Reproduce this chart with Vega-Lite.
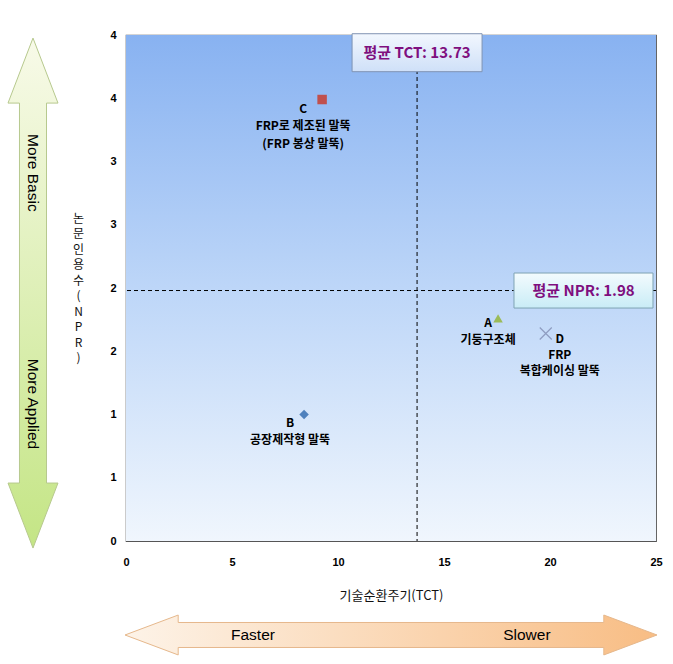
{
  "$schema": "https://vega.github.io/schema/vega-lite/v6.json",
  "width": 530,
  "height": 506,
  "autosize": {"type": "none"},
  "padding": {"left": 126, "top": 35, "right": 17, "bottom": 123},
  "background": "white",
  "config": {
    "view": {"stroke": "#555555", "strokeWidth": 1.2},
    "font": "Noto Sans CJK KR"
  },
  "data": {"values": [{"note": "annotation"}]},
  "datasets": {
    "tech": [
      {"code": "A", "label": "A\n기둥구조체", "tct": 17.55, "npr": 1.76},
      {"code": "B", "label": "B\n공장제작형 말뚝", "tct": 8.4, "npr": 1.0},
      {"code": "C", "label": "C\nFRP로 제조된 말뚝\n(FRP 봉상 말뚝)", "tct": 9.25, "npr": 3.49},
      {"code": "D", "label": "D\nFRP\n복합케이싱 말뚝", "tct": 19.8, "npr": 1.64}
    ]
  },
  "layer": [
    {
      "mark": {
        "type": "rect",
        "fill": {
          "gradient": "linear", "x1": 0, "y1": 0, "x2": 0, "y2": 1,
          "stops": [
            {"offset": 0, "color": "#88b2f1"},
            {"offset": 0.5, "color": "#bdd6f8"},
            {"offset": 1, "color": "#f0f6fd"}
          ]
        }
      },
      "encoding": {}
    },
    {
      "data": {"name": "tech"},
      "mark": {"type": "point", "filled": true, "opacity": 1, "size": 90},
      "transform": [{"filter": "datum.code != 'D'"}],
      "encoding": {
        "x": {
          "field": "tct", "type": "quantitative",
          "scale": {"domain": [0, 25], "nice": false, "zero": false},
          "axis": {
            "title": "기술순환주기(TCT)",
            "values": [0, 5, 10, 15, 20, 25],
            "grid": false, "domain": false, "ticks": false, "tickSize": 0,
            "labelFont": "Liberation Sans", "labelFontWeight": "bold", "labelFontSize": 11,
            "labelColor": "#000000", "labelPadding": 15, "labelFlush": false, "labelOverlap": false,
            "titleFont": "Noto Sans CJK KR", "titleFontWeight": "normal", "titleFontSize": 13,
            "titleColor": "#111111", "titlePadding": 22
          }
        },
        "y": {
          "field": "npr", "type": "quantitative",
          "scale": {"domain": [0, 4], "nice": false, "zero": false},
          "axis": {
            "title": ["논", "문", "인", "용", "수", "(", "N", "P", "R", ")"],
            "values": [0, 0.5, 1, 1.5, 2, 2.5, 3, 3.5, 4],
            "format": ".0f",
            "grid": false, "domain": false, "ticks": false, "tickSize": 0,
            "labelFont": "Liberation Sans", "labelFontWeight": "bold", "labelFontSize": 11,
            "labelColor": "#000000", "labelPadding": 10, "labelFlush": false, "labelOverlap": false,
            "titleFont": "Noto Sans CJK KR", "titleFontWeight": "normal", "titleFontSize": 12,
            "titleColor": "#111111", "titleAngle": 0, "titleAlign": "center", "titleBaseline": "middle",
            "titleX": -48, "titleY": 183, "titleLineHeight": 15.5
          }
        },
        "shape": {
          "field": "code", "type": "nominal",
          "scale": {"domain": ["A", "B", "C"], "range": ["triangle-up", "diamond", "square"]},
          "legend": null
        },
        "color": {
          "field": "code", "type": "nominal",
          "scale": {"domain": ["A", "B", "C"], "range": ["#9bbb59", "#4f81bd", "#c0504d"]},
          "legend": null
        }
      }
    },
    {
      "data": {"name": "tech"},
      "transform": [{"filter": "datum.code == 'D'"}],
      "mark": {"type": "point", "filled": false, "opacity": 1, "size": 144,
               "shape": "M-1,-1L1,1M-1,1L1,-1", "stroke": "#8e9cc0", "strokeWidth": 1.2},
      "encoding": {
        "x": {"field": "tct", "type": "quantitative"},
        "y": {"field": "npr", "type": "quantitative"}
      }
    },
    {
      "mark": {"type": "rule", "strokeDash": [4, 3], "color": "#000000", "strokeWidth": 1},
      "encoding": {"x": {"datum": 13.73, "type": "quantitative"}}
    },
    {
      "mark": {"type": "rule", "strokeDash": [4, 3], "color": "#000000", "strokeWidth": 1},
      "encoding": {"y": {"datum": 1.98, "type": "quantitative"}}
    },
    {
      "mark": {
        "type": "point", "filled": true, "opacity": 1, "size": 16900,
        "shape": "M-1,-0.292L1,-0.292L1,0.292L-1,0.292Z",
        "fill": {"gradient": "linear", "x1": 0, "y1": 0, "x2": 0, "y2": 1,
                 "stops": [{"offset": 0, "color": "#f2f7fe"}, {"offset": 1, "color": "#cfe0f8"}]},
        "stroke": "#7f93b3", "strokeWidth": 1
      },
      "encoding": {
        "x": {"datum": 13.73, "type": "quantitative"},
        "y": {"datum": 3.86, "type": "quantitative"}
      }
    },
    {
      "mark": {"type": "text", "text": "평균 TCT: 13.73", "font": "Noto Sans CJK KR", "fontWeight": "bold",
               "fontSize": 15, "color": "#7f0f7f", "align": "center", "baseline": "middle"},
      "encoding": {
        "x": {"datum": 13.73, "type": "quantitative"},
        "y": {"datum": 3.86, "type": "quantitative"}
      }
    },
    {
      "mark": {
        "type": "point", "filled": true, "opacity": 1, "size": 19321,
        "shape": "M-1,-0.252L1,-0.252L1,0.252L-1,0.252Z",
        "fill": {"gradient": "linear", "x1": 0, "y1": 0, "x2": 0, "y2": 1,
                 "stops": [{"offset": 0, "color": "#f3fbfe"}, {"offset": 1, "color": "#c9ecf6"}]},
        "stroke": "#7fa3b3", "strokeWidth": 1
      },
      "encoding": {
        "x": {"datum": 21.58, "type": "quantitative"},
        "y": {"datum": 1.98, "type": "quantitative"}
      }
    },
    {
      "mark": {"type": "text", "text": "평균 NPR: 1.98", "font": "Noto Sans CJK KR", "fontWeight": "bold",
               "fontSize": 15, "color": "#7f0f7f", "align": "center", "baseline": "middle"},
      "encoding": {
        "x": {"datum": 21.58, "type": "quantitative"},
        "y": {"datum": 1.98, "type": "quantitative"}
      }
    },
    {
      "data": {"name": "tech"},
      "transform": [{"filter": "datum.code == 'A'"}],
      "mark": {"type": "text", "lineBreak": "\n", "font": "Noto Sans CJK KR", "fontWeight": "bold", "fontSize": 12,
               "lineHeight": 17, "align": "center", "baseline": "top", "dx": -10, "dy": 0, "color": "#000000"},
      "encoding": {
        "x": {"field": "tct", "type": "quantitative"},
        "y": {"field": "npr", "type": "quantitative"},
        "text": {"field": "label"}
      }
    },
    {
      "data": {"name": "tech"},
      "transform": [{"filter": "datum.code == 'B'"}],
      "mark": {"type": "text", "lineBreak": "\n", "font": "Noto Sans CJK KR", "fontWeight": "bold", "fontSize": 12,
               "lineHeight": 17, "align": "center", "baseline": "top", "dx": -14, "dy": 3, "color": "#000000"},
      "encoding": {
        "x": {"field": "tct", "type": "quantitative"},
        "y": {"field": "npr", "type": "quantitative"},
        "text": {"field": "label"}
      }
    },
    {
      "data": {"name": "tech"},
      "transform": [{"filter": "datum.code == 'C'"}],
      "mark": {"type": "text", "lineBreak": "\n", "font": "Noto Sans CJK KR", "fontWeight": "bold", "fontSize": 12,
               "lineHeight": 17.5, "align": "center", "baseline": "top", "dx": -19, "dy": 4, "color": "#000000"},
      "encoding": {
        "x": {"field": "tct", "type": "quantitative"},
        "y": {"field": "npr", "type": "quantitative"},
        "text": {"field": "label"}
      }
    },
    {
      "data": {"name": "tech"},
      "transform": [{"filter": "datum.code == 'D'"}],
      "mark": {"type": "text", "lineBreak": "\n", "font": "Noto Sans CJK KR", "fontWeight": "bold", "fontSize": 12,
               "lineHeight": 16, "align": "center", "baseline": "top", "dx": 14, "dy": 0, "color": "#000000"},
      "encoding": {
        "x": {"field": "tct", "type": "quantitative"},
        "y": {"field": "npr", "type": "quantitative"},
        "text": {"field": "label"}
      }
    },
    {
      "mark": {
        "type": "point", "filled": true, "opacity": 1, "size": 260100,
        "shape": "M0,-1L0.098,-0.745L0.053,-0.745L0.053,0.745L0.098,0.745L0,1L-0.098,0.745L-0.053,0.745L-0.053,-0.745L-0.098,-0.745Z",
        "fill": {"gradient": "linear", "x1": 0, "y1": 0, "x2": 0, "y2": 1,
                 "stops": [{"offset": 0, "color": "#f8fae9"}, {"offset": 1, "color": "#c4e585"}]},
        "stroke": "#b7c98e", "strokeWidth": 1
      },
      "encoding": {
        "x": {"datum": -4.387, "type": "quantitative"},
        "y": {"datum": 1.96, "type": "quantitative"}
      }
    },
    {
      "mark": {"type": "text", "text": "More Basic", "font": "Liberation Sans", "fontSize": 15.5, "angle": 90,
               "align": "center", "baseline": "middle", "color": "#000000"},
      "encoding": {
        "x": {"datum": -4.387, "type": "quantitative"},
        "y": {"datum": 2.91, "type": "quantitative"}
      }
    },
    {
      "mark": {"type": "text", "text": "More Applied", "font": "Liberation Sans", "fontSize": 15.5, "angle": 90,
               "align": "center", "baseline": "middle", "color": "#000000"},
      "encoding": {
        "x": {"datum": -4.387, "type": "quantitative"},
        "y": {"datum": 1.083, "type": "quantitative"}
      }
    },
    {
      "mark": {
        "type": "point", "filled": true, "opacity": 1, "size": 283024,
        "shape": "M-1,0L-0.8,-0.075L-0.8,-0.047L0.8,-0.047L0.8,-0.075L1,0L0.8,0.075L0.8,0.047L-0.8,0.047L-0.8,0.075Z",
        "fill": {"gradient": "linear", "x1": 0, "y1": 0, "x2": 1, "y2": 0,
                 "stops": [{"offset": 0, "color": "#fdf3e8"}, {"offset": 1, "color": "#f8bd84"}]},
        "stroke": "#e6b88c", "strokeWidth": 1
      },
      "encoding": {
        "x": {"datum": 12.5, "type": "quantitative"},
        "y": {"datum": -0.743, "type": "quantitative"}
      }
    },
    {
      "mark": {"type": "text", "text": "Faster", "font": "Liberation Sans", "fontSize": 15.5,
               "align": "center", "baseline": "middle", "color": "#000000"},
      "encoding": {
        "x": {"datum": 5.99, "type": "quantitative"},
        "y": {"datum": -0.743, "type": "quantitative"}
      }
    },
    {
      "mark": {"type": "text", "text": "Slower", "font": "Liberation Sans", "fontSize": 15.5,
               "align": "center", "baseline": "middle", "color": "#000000"},
      "encoding": {
        "x": {"datum": 18.91, "type": "quantitative"},
        "y": {"datum": -0.743, "type": "quantitative"}
      }
    }
  ]
}
